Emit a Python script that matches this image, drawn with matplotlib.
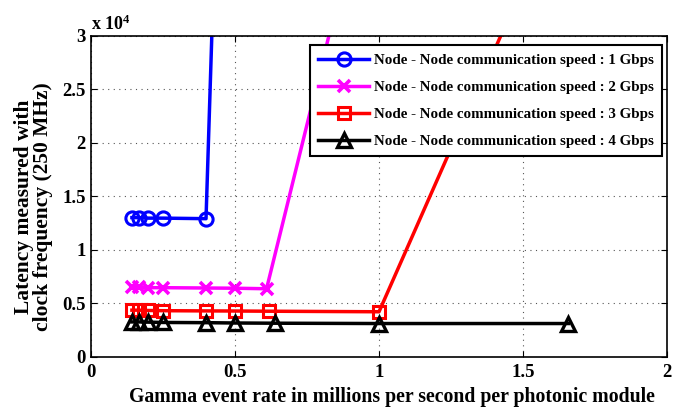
import matplotlib
matplotlib.use("Agg")
import matplotlib.pyplot as plt
import numpy as np

plt.rcParams['font.family'] = ['Liberation Serif', 'DejaVu Serif']
plt.rcParams['font.weight'] = 'bold'
plt.rcParams['mathtext.default'] = 'regular'

x1 = [0.143, 0.167, 0.2, 0.25, 0.4, 0.5]
y1 = [13000, 13000, 12950, 12950, 12900, 98000]
x2 = [0.143, 0.167, 0.2, 0.25, 0.4, 0.5, 0.61, 1.0]
y2 = [6500, 6500, 6450, 6450, 6420, 6400, 6350, 49000]
x3 = [0.143, 0.167, 0.2, 0.25, 0.4, 0.5, 0.62, 1.0, 1.66]
y3 = [4350, 4350, 4320, 4300, 4280, 4270, 4250, 4200, 44500]
x4 = [0.143, 0.167, 0.2, 0.25, 0.4, 0.5, 0.64, 1.0, 1.657]
y4 = [3250, 3250, 3230, 3200, 3180, 3150, 3130, 3100, 3100]
labels = ["Node - Node communication speed : 1 Gbps",
          "Node - Node communication speed : 2 Gbps",
          "Node - Node communication speed : 3 Gbps",
          "Node - Node communication speed : 4 Gbps"]
xticks = [0, 0.5, 1, 1.5, 2]
xtick_labels = ["0", "0.5", "1", "1.5", "2"]
yticks = [0, 5000, 10000, 15000, 20000, 25000, 30000]
ytick_labels = ["0", "0.5", "1", "1.5", "2", "2.5", "3"]

fig = plt.figure(figsize=(6.86, 4.08), dpi=100)
ax = fig.add_axes([90.7/686, 1 - 356.7/408, (667.3-90.7)/686, (356.7-35.7)/408])

lw = 2.5
ax.plot(x1, y1, color='#0000ff', marker='o', mfc='none', mec='#0000ff', ms=9.5, mew=2.2, lw=lw, label=labels[0])
ax.plot(x2, y2, color='#ff00ff', marker='x', ms=8, mew=2.6, lw=lw, label=labels[1])
ax.plot(x3, y3, color='#ff0000', marker='s', mfc='none', mec='#ff0000', ms=8.5, mew=2.2, lw=lw, label=labels[2])
ax.plot(x4, y4, color='black', marker='^', mfc='none', mec='black', ms=10.5, mew=2.4, lw=lw, label=labels[3])

ax.set_xlim(0, 2)
ax.set_ylim(0, 30000)
ax.set_xticks(xticks)
ax.set_xticklabels(xtick_labels)
ax.set_yticks(yticks)
ax.set_yticklabels(ytick_labels)
ax.tick_params(direction='in', top=True, right=True, labelsize=13.5, length=4, width=0.8)
ax.tick_params(axis='x', pad=5)
for lab in ax.get_xticklabels() + ax.get_yticklabels():
    lab.set_fontweight('bold')
ax.grid(True, linestyle=(0, (1, 4)), color='#555555', linewidth=0.8)
for s in ax.spines.values():
    s.set_linewidth(1.2)

ax.text(0, 1.005, r"x 10$^{4}$", transform=ax.transAxes, fontsize=13, fontweight='bold', va='bottom', ha='left')

ax.set_xlabel("Gamma event rate in millions per second per photonic module", fontsize=14.2, fontweight='bold')
ax.xaxis.set_label_coords(0.522, -0.095)
ax.set_ylabel("Latency measured with\nclock frequency (250 MHz)", fontsize=15.5, fontweight='bold', linespacing=0.95)
ax.yaxis.set_label_coords(-0.065, 0.466)

leg = ax.legend(loc='upper right', bbox_to_anchor=(0.991, 0.971), prop={'weight': 'bold', 'size': 10.8},
                frameon=True, fancybox=False, edgecolor='black', framealpha=1, handlelength=3.4,
                borderpad=0.55, labelspacing=0.9, handletextpad=0.3, borderaxespad=0)
leg.get_frame().set_linewidth(1.5)

fig.savefig("out.png", dpi=100)
